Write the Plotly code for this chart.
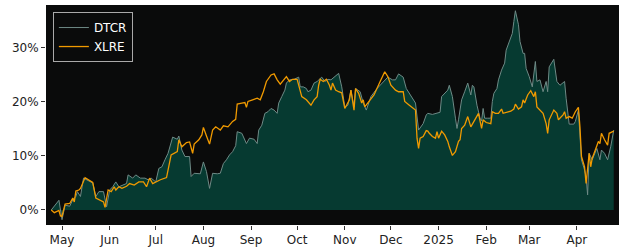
import pandas as pd
import plotly.graph_objects as go

BASE_DATE = "2024-05-01"

# DTCR: day offset from 2024-05-01, cumulative return in %
dtcr_days = [-7, -2, 0, 2, 5, 7, 9, 10, 12, 14, 20, 22, 24, 27, 29, 31, 33, 35, 37, 39, 42, 43, 46, 48, 51, 54,
             56, 58, 61, 63, 65, 67, 69, 72, 75, 76, 78, 80, 83, 84, 86, 90, 92, 94, 96, 98, 101, 103, 105, 107,
             109, 111, 113, 114, 117, 120, 122, 125, 127, 128, 130, 132, 134, 136, 138, 140, 141, 143, 145, 146,
             148, 151, 154, 155, 157, 159, 160, 162, 164, 166, 168, 169, 171, 173, 175, 177, 180, 182, 184, 186,
             188, 190, 191, 194, 196, 198, 199, 201, 205, 209, 212, 215, 217, 219, 222, 224, 226, 229, 230, 232,
             235, 237, 238, 241, 243, 246, 247, 249, 251, 252, 254, 256, 257, 258, 260, 262, 264, 266, 267, 268,
             270, 272, 273, 274, 275, 277, 279, 280, 281, 283, 284, 286, 288, 289, 291, 293, 294, 295, 297, 298,
             300, 301, 302, 304, 306, 308, 309, 311, 313, 315, 316, 317, 320, 322, 324, 327, 328, 330, 333, 334,
             336, 337, 338, 340, 341, 342, 343, 345, 347, 348, 350, 351, 353, 355, 357, 359]
dtcr_vals = [0.0, 1.8, -1.8, 0.9, 0.7, 1.9, 2.5, 3.4, 2.5, 5.9, 5.0, 2.5, 3.4, 3.4, 0.6, 3.7, 4.3, 5.2, 4.3, 4.6,
             4.9, 6.5, 5.9, 6.5, 5.9, 5.9, 5.6, 5.9, 5.2, 7.7, 8.0, 9.3, 10.5, 13.5, 13.1, 13.7, 11.1, 9.9, 9.9,
             6.2, 6.8, 6.7, 8.9, 7.1, 4.0, 6.8, 6.7, 6.8, 8.6, 9.3, 10.2, 10.8, 11.9, 14.5, 14.2, 12.3, 13.3,
             13.1, 12.3, 14.8, 15.7, 17.9, 18.2, 18.8, 18.5, 17.9, 19.8, 21.0, 22.2, 23.5, 24.1, 24.2, 24.6,
             22.8, 22.8, 22.5, 21.9, 22.2, 23.5, 23.8, 24.4, 24.6, 23.8, 24.2, 24.1, 24.6, 25.3, 22.8, 19.1,
             19.4, 22.2, 19.1, 22.5, 21.9, 19.8, 18.5, 19.4, 21.0, 22.5, 23.8, 24.6, 24.1, 24.1, 25.2, 24.6,
             22.5, 21.6, 20.4, 19.8, 14.8, 16.0, 17.6, 17.9, 17.7, 17.9, 18.1, 21.0, 21.6, 22.2, 23.1, 21.0,
             17.0, 15.1, 16.7, 20.4, 21.9, 23.5, 21.3, 23.1, 22.8, 19.4, 17.0, 16.5, 18.8, 17.0, 17.0, 17.0,
             20.1, 21.6, 22.5, 24.1, 25.9, 27.2, 29.6, 31.2, 32.7, 34.9, 36.9, 34.3, 31.2, 29.0, 29.0, 26.2,
             24.7, 22.8, 27.5, 23.8, 24.1, 21.9, 23.8, 21.9, 26.5, 27.9, 23.8, 23.1, 23.8, 20.7, 15.9, 15.9,
             16.4, 18.5, 13.9, 9.3, 7.4, 6.2, 2.8, 10.5, 9.3, 10.8, 11.4, 9.3, 11.1, 10.5, 9.3, 11.7, 14.8]

# XLRE: day offset from 2024-05-01, cumulative return in %
xlre_days = [-7, -5, -2, -1, 0, 2, 5, 7, 8, 9, 11, 12, 15, 17, 20, 22, 24, 27, 28, 30, 32, 34, 35, 37, 39, 42, 44,
             47, 50, 53, 55, 57, 59, 61, 64, 68, 70, 71, 75, 76, 78, 81, 83, 85, 86, 89, 91, 92, 94, 96, 98, 100,
             103, 105, 108, 111, 113, 114, 117, 119, 120, 121, 124, 127, 129, 131, 133, 136, 138, 140, 142, 144,
             146, 148, 150, 153, 154, 156, 159, 162, 164, 166, 167, 168, 170, 172, 174, 175, 176, 178, 180, 182,
             184, 186, 187, 188, 190, 191, 193, 195, 196, 197, 199, 201, 203, 207, 209, 210, 212, 214, 217, 219,
             222, 223, 226, 230, 231, 232, 233, 235, 237, 238, 239, 241, 243, 244, 245, 247, 249, 251, 252, 254,
             256, 258, 259, 260, 262, 264, 266, 268, 269, 271, 273, 274, 276, 279, 280, 282, 284, 286, 287, 289,
             292, 294, 295, 297, 299, 300, 301, 303, 305, 307, 308, 309, 311, 313, 315, 316, 317, 320, 322, 323,
             326, 327, 328, 330, 332, 334, 336, 337, 338, 340, 341, 343, 344, 345, 347, 349, 350, 351, 353, 355,
             356, 358, 359]
xlre_vals = [0.0, -0.5, -0.1, -1.1, -1.2, 1.1, 1.2, 2.2, 1.5, 3.5, 3.7, 4.0, 6.0, 5.7, 5.1, 2.2, 1.9, 1.5, 0.5,
             3.7, 3.4, 4.3, 3.7, 4.3, 4.0, 4.4, 4.9, 4.6, 5.2, 5.2, 4.3, 5.9, 4.9, 5.2, 5.6, 6.0, 8.6, 10.2, 10.8,
             13.0, 11.7, 12.5, 12.6, 10.5, 12.2, 13.0, 13.9, 15.3, 13.7, 12.2, 14.8, 15.4, 14.8, 15.6, 15.4, 16.4,
             16.8, 19.6, 19.8, 19.9, 19.0, 20.1, 20.4, 20.7, 20.4, 21.9, 23.8, 25.0, 25.2, 24.1, 23.3, 24.1, 24.7,
             23.8, 24.2, 24.2, 23.1, 21.0, 20.4, 19.4, 20.4, 21.0, 23.1, 24.2, 23.8, 24.2, 23.1, 22.2, 23.5, 22.2,
             21.9, 21.7, 18.8, 19.8, 20.4, 22.2, 18.5, 22.5, 21.6, 19.8, 20.4, 19.1, 19.8, 20.7, 21.3, 23.8, 25.0,
             25.6, 24.7, 23.1, 22.2, 21.9, 21.9, 20.1, 19.4, 18.5, 13.3, 11.4, 13.3, 13.6, 14.7, 14.6, 14.2, 13.6,
             13.3, 14.5, 13.3, 14.6, 13.9, 12.7, 11.7, 10.1, 10.8, 12.7, 13.0, 15.1, 15.7, 17.3, 15.4, 16.4, 17.0,
             17.9, 15.1, 16.7, 16.2, 16.0, 18.2, 17.9, 17.9, 18.7, 17.9, 18.1, 18.3, 18.7, 19.6, 18.7, 19.1, 20.4,
             19.8, 21.3, 22.1, 21.0, 21.9, 19.1, 18.5, 17.9, 16.0, 14.2, 16.7, 18.5, 17.9, 16.7, 17.6, 18.2, 17.0,
             17.3, 17.0, 18.2, 19.0, 15.4, 9.9, 8.0, 4.9, 10.5, 8.0, 9.6, 11.1, 12.7, 12.3, 14.2, 13.0, 12.0, 14.2,
             14.5, 14.6]

tick_dates = ["2024-05-01", "2024-06-01", "2024-07-01", "2024-08-01", "2024-09-01", "2024-10-01",
              "2024-11-01", "2024-12-01", "2025-01-01", "2025-02-01", "2025-03-01", "2025-04-01"]
tick_labels = ["May", "Jun", "Jul", "Aug", "Sep", "Oct", "Nov", "Dec", "2025", "Feb", "Mar", "Apr"]
y_ticks = [0, 10, 20, 30]
y_tick_labels = ["0%", "10%", "20%", "30%"]

base = pd.Timestamp(BASE_DATE)
dtcr_x = base + pd.to_timedelta(dtcr_days, unit="D")
xlre_x = base + pd.to_timedelta(xlre_days, unit="D")

fig = go.Figure()
fig.add_trace(go.Scatter(x=dtcr_x, y=dtcr_vals, mode="lines", fill="tozeroy",
                         fillcolor="#063a31", line=dict(width=0, color="#063a31"),
                         showlegend=False, hoverinfo="skip"))
fig.add_trace(go.Scatter(x=dtcr_x, y=dtcr_vals, mode="lines", name="DTCR",
                         line=dict(color="#6e8a86", width=1)))
fig.add_trace(go.Scatter(x=xlre_x, y=xlre_vals, mode="lines", name="XLRE",
                         line=dict(color="#f09a00", width=1.3)))

fig.update_layout(
    width=625, height=250,
    margin=dict(l=46, r=6, t=5, b=25),
    paper_bgcolor="white",
    plot_bgcolor="#0a0b0b",
    font=dict(family="DejaVu Sans", size=12, color="#222222"),
    legend=dict(x=0.012, y=0.968, xanchor="left", yanchor="top",
                bgcolor="#0a0b0b", bordercolor="#aaaaaa", borderwidth=1,
                font=dict(color="white", size=12, family="DejaVu Sans"),
                tracegroupgap=0, itemwidth=30),
)
fig.update_xaxes(
    range=["2024-04-20 14:00", "2025-04-28 10:00"],
    tickvals=tick_dates, ticktext=tick_labels,
    ticks="outside", ticklen=4, tickcolor="#333333",
    showgrid=False, zeroline=False, showline=False, automargin=False,
)
fig.update_yaxes(
    range=[-2.78, 37.96],
    tickvals=y_ticks, ticktext=y_tick_labels,
    ticks="outside", ticklen=4, tickcolor="#333333",
    showgrid=False, zeroline=False, showline=False, automargin=False,
)

fig.write_html("out.html")
